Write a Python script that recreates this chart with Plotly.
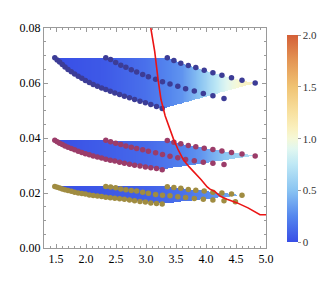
import numpy as np
import plotly.graph_objects as go

# ---------------- data ----------------
xa = [1.48, 1.52, 1.56, 1.605, 1.65, 1.70, 1.755, 1.81, 1.87, 1.93, 1.99, 2.055, 2.12, 2.19,
      2.26, 2.33, 2.405, 2.48, 2.56, 2.64, 2.725, 2.81, 2.90, 2.99, 3.08, 3.175, 3.27]
xb = [2.33, 2.41, 2.495, 2.58, 2.665, 2.755, 2.845, 2.945, 3.04, 3.16, 3.275, 3.40, 3.53,
      3.66, 3.805, 3.955, 4.115, 4.30]
xb_low = xb + [4.49]
xc = [3.355, 3.465, 3.58, 3.705, 3.83, 3.97, 4.115, 4.265, 4.425, 4.60, 4.82]
xc_low = xc[:10]

top_a = [0.0692, 0.0684, 0.0676, 0.0667, 0.0658, 0.0649, 0.0641, 0.0633, 0.0625, 0.0617, 0.0609,
         0.0602, 0.0595, 0.0588, 0.0582, 0.0576, 0.0570, 0.0564, 0.0558, 0.0552, 0.0546, 0.0540,
         0.0534, 0.0528, 0.0522, 0.0515, 0.0507]
top_b = [0.0692, 0.0685, 0.0675, 0.0665, 0.0657, 0.0648, 0.0640, 0.0631, 0.0623, 0.0614, 0.0605,
         0.0596, 0.0588, 0.0579, 0.0571, 0.0562, 0.0554, 0.0544]
top_c = [0.0692, 0.0682, 0.0672, 0.0664, 0.0656, 0.0646, 0.0637, 0.0628, 0.0619, 0.0610, 0.0600]

mid_a = [0.0392, 0.0386, 0.0381, 0.0376, 0.0371, 0.0366, 0.0362, 0.0357, 0.0352, 0.0347, 0.0343,
         0.0339, 0.0335, 0.0331, 0.0327, 0.0323, 0.0319, 0.0316, 0.0312, 0.0308, 0.0305, 0.0301,
         0.0298, 0.0295, 0.0292, 0.0289, 0.0285]
mid_b = [0.0392, 0.0386, 0.0381, 0.0376, 0.0371, 0.0366, 0.0362, 0.0357, 0.0352, 0.0346, 0.0340,
         0.0334, 0.0328, 0.0322, 0.0317, 0.0312, 0.0308, 0.0304]
mid_c = [0.0391, 0.0385, 0.0379, 0.0373, 0.0368, 0.0363, 0.0358, 0.0353, 0.0347, 0.0342, 0.0335]

low_a = [0.0224, 0.0221, 0.0218, 0.0215, 0.0212, 0.0209, 0.0206, 0.0203, 0.0200, 0.0198, 0.0196,
         0.0193, 0.0191, 0.0189, 0.0187, 0.0185, 0.0183, 0.0181, 0.0179, 0.0177, 0.0175, 0.0172,
         0.0169, 0.0167, 0.0164, 0.0162, 0.0160]
low_b = [0.0224, 0.0222, 0.0219, 0.0215, 0.0212, 0.0209, 0.0207, 0.0203, 0.0199, 0.0195, 0.0192,
         0.0190, 0.0186, 0.0184, 0.0180, 0.0177, 0.0175, 0.0172, 0.0168]
low_c = [0.0223, 0.0220, 0.0217, 0.0213, 0.0210, 0.0207, 0.0203, 0.0200, 0.0196, 0.0192]

# colour value of the shaded bands along x (colour-bar units)
top_cx = [1.45, 2.3, 3.0, 3.6, 3.9, 4.15, 4.35, 4.6, 4.85]
top_cv = [0.0, 0.05, 0.15, 0.3, 0.5, 0.72, 0.9, 1.05, 1.12]
mid_cx = [1.45, 3.0, 3.6, 3.9, 4.3, 4.6, 4.85]
mid_cv = [0.0, 0.12, 0.22, 0.3, 0.5, 0.62, 0.72]
low_cx = [1.45, 3.0, 3.6, 4.0, 4.3, 4.6]
low_cv = [0.0, 0.08, 0.15, 0.25, 0.35, 0.45]

curve_x = [3.08, 3.145, 3.20, 3.25, 3.32, 3.40, 3.46, 3.53, 3.62, 3.72, 3.82, 3.92, 4.02, 4.06,
           4.15, 4.24, 4.35, 4.51, 4.70, 4.82, 4.90, 5.0]
curve_y = [0.080, 0.0715, 0.0615, 0.0540, 0.0480, 0.0430, 0.0395, 0.0360, 0.0322, 0.0295, 0.0272,
           0.0248, 0.0222, 0.0215, 0.0205, 0.0188, 0.0177, 0.0165, 0.0146, 0.0132, 0.0121, 0.0121]

colorscale = [
    [0.0, "rgb(56,78,230)"], [0.125, "rgb(85,135,238)"], [0.25, "rgb(138,196,242)"],
    [0.375, "rgb(190,232,245)"], [0.45, "rgb(225,247,240)"], [0.5, "rgb(245,248,215)"],
    [0.55, "rgb(250,240,190)"], [0.625, "rgb(248,225,160)"], [0.75, "rgb(240,195,115)"],
    [0.875, "rgb(228,150,85)"], [1.0, "rgb(212,95,55)"],
]

groups = [
    (xa, top_a, xb, top_b, xc, top_c, top_cx, top_cv, "rgb(60,60,150)"),
    (xa, mid_a, xb, mid_b, xc, mid_c, mid_cx, mid_cv, "rgb(155,60,105)"),
    (xa, low_a, xb_low, low_b, xc_low, low_c, low_cx, low_cv, "rgb(160,140,65)"),
]


def inside(px, py, vx, vy):
    res = np.zeros(px.shape, bool)
    n = len(vx)
    j = n - 1
    for i in range(n):
        xi, yi, xj, yj = vx[i], vy[i], vx[j], vy[j]
        dy = (yj - yi) if yj != yi else 1e-12
        cond = ((yi > py) != (yj > py)) & (px < (xj - xi) * (py - yi) / dy + xi)
        res ^= cond
        j = i
    return res


fig = go.Figure()

for ax_, ay_, bx_, by_, cx_, cy_, kx, kv, col in groups:
    vx = list(ax_) + list(cx_[::-1])
    vy = list(ay_) + list(cy_[::-1])
    gx = np.arange(min(vx) - 0.01, max(vx) + 0.01, 0.008)
    gy = np.arange(min(vy) - 0.0003, max(vy) + 0.0003, 0.00015)
    X, Y = np.meshgrid(gx, gy)
    m = inside(X, Y, np.array(vx), np.array(vy))
    Z = np.interp(X, kx, kv)
    Z = np.where(m, np.round(Z, 3), np.nan)
    fig.add_trace(go.Heatmap(x=np.round(gx, 4), y=np.round(gy, 6), z=Z, coloraxis="coloraxis",
                             hoverinfo="skip", zsmooth=False))

for ax_, ay_, bx_, by_, cx_, cy_, kx, kv, col in groups:
    for xs, ys in ((ax_, ay_), (bx_, by_), (cx_, cy_)):
        fig.add_trace(go.Scatter(x=xs, y=ys, mode="markers",
                                 marker=dict(size=5.5, color=col, line=dict(width=0)),
                                 showlegend=False))

fig.add_trace(go.Scatter(x=curve_x, y=curve_y, mode="lines",
                         line=dict(color="rgb(235,20,20)", width=1.6), showlegend=False))

axis_common = dict(showline=True, linecolor="#9a9a9a", linewidth=1, mirror="allticks",
                   ticks="inside", ticklen=4, tickcolor="#9a9a9a", showgrid=False, zeroline=False,
                   tickfont=dict(family="Liberation Serif", size=12, color="black"))

fig.update_layout(
    width=321, height=288,
    margin=dict(l=44, r=55, t=28, b=40, autoexpand=False),
    paper_bgcolor="white", plot_bgcolor="white",
    showlegend=False,
    xaxis=dict(range=[1.3, 5.0], tickvals=[1.5, 2.0, 2.5, 3.0, 3.5, 4.0, 4.5, 5.0],
               tickformat=".1f",
               minor=dict(dtick=0.1, tick0=1.3, ticklen=2, tickcolor="#9a9a9a", ticks="inside"),
               **axis_common),
    yaxis=dict(range=[0, 0.08], tickvals=[0, 0.02, 0.04, 0.06, 0.08], tickformat=".2f",
               minor=dict(dtick=0.005, ticklen=2, tickcolor="#9a9a9a", ticks="inside"),
               **axis_common),
    coloraxis=dict(
        cmin=0, cmax=2, colorscale=colorscale,
        colorbar=dict(thickness=11, len=207, lenmode="pixels", x=1.093, xanchor="left",
                      xpad=0, ypad=0, y=0.497, yanchor="middle", outlinewidth=0,
                      tickvals=[0, 0.5, 1.0, 1.5, 2.0], ticktext=["0", "0.5", "1.0", "1.5", "2.0"],
                      ticks="outside", ticklen=3, tickcolor="#9a9a9a",
                      tickfont=dict(family="Liberation Serif", size=11, color="#333"))
    ),
)

fig.write_html("out.html", config={"displayModeBar": False},
               post_script="document.body.style.margin='0px';")
